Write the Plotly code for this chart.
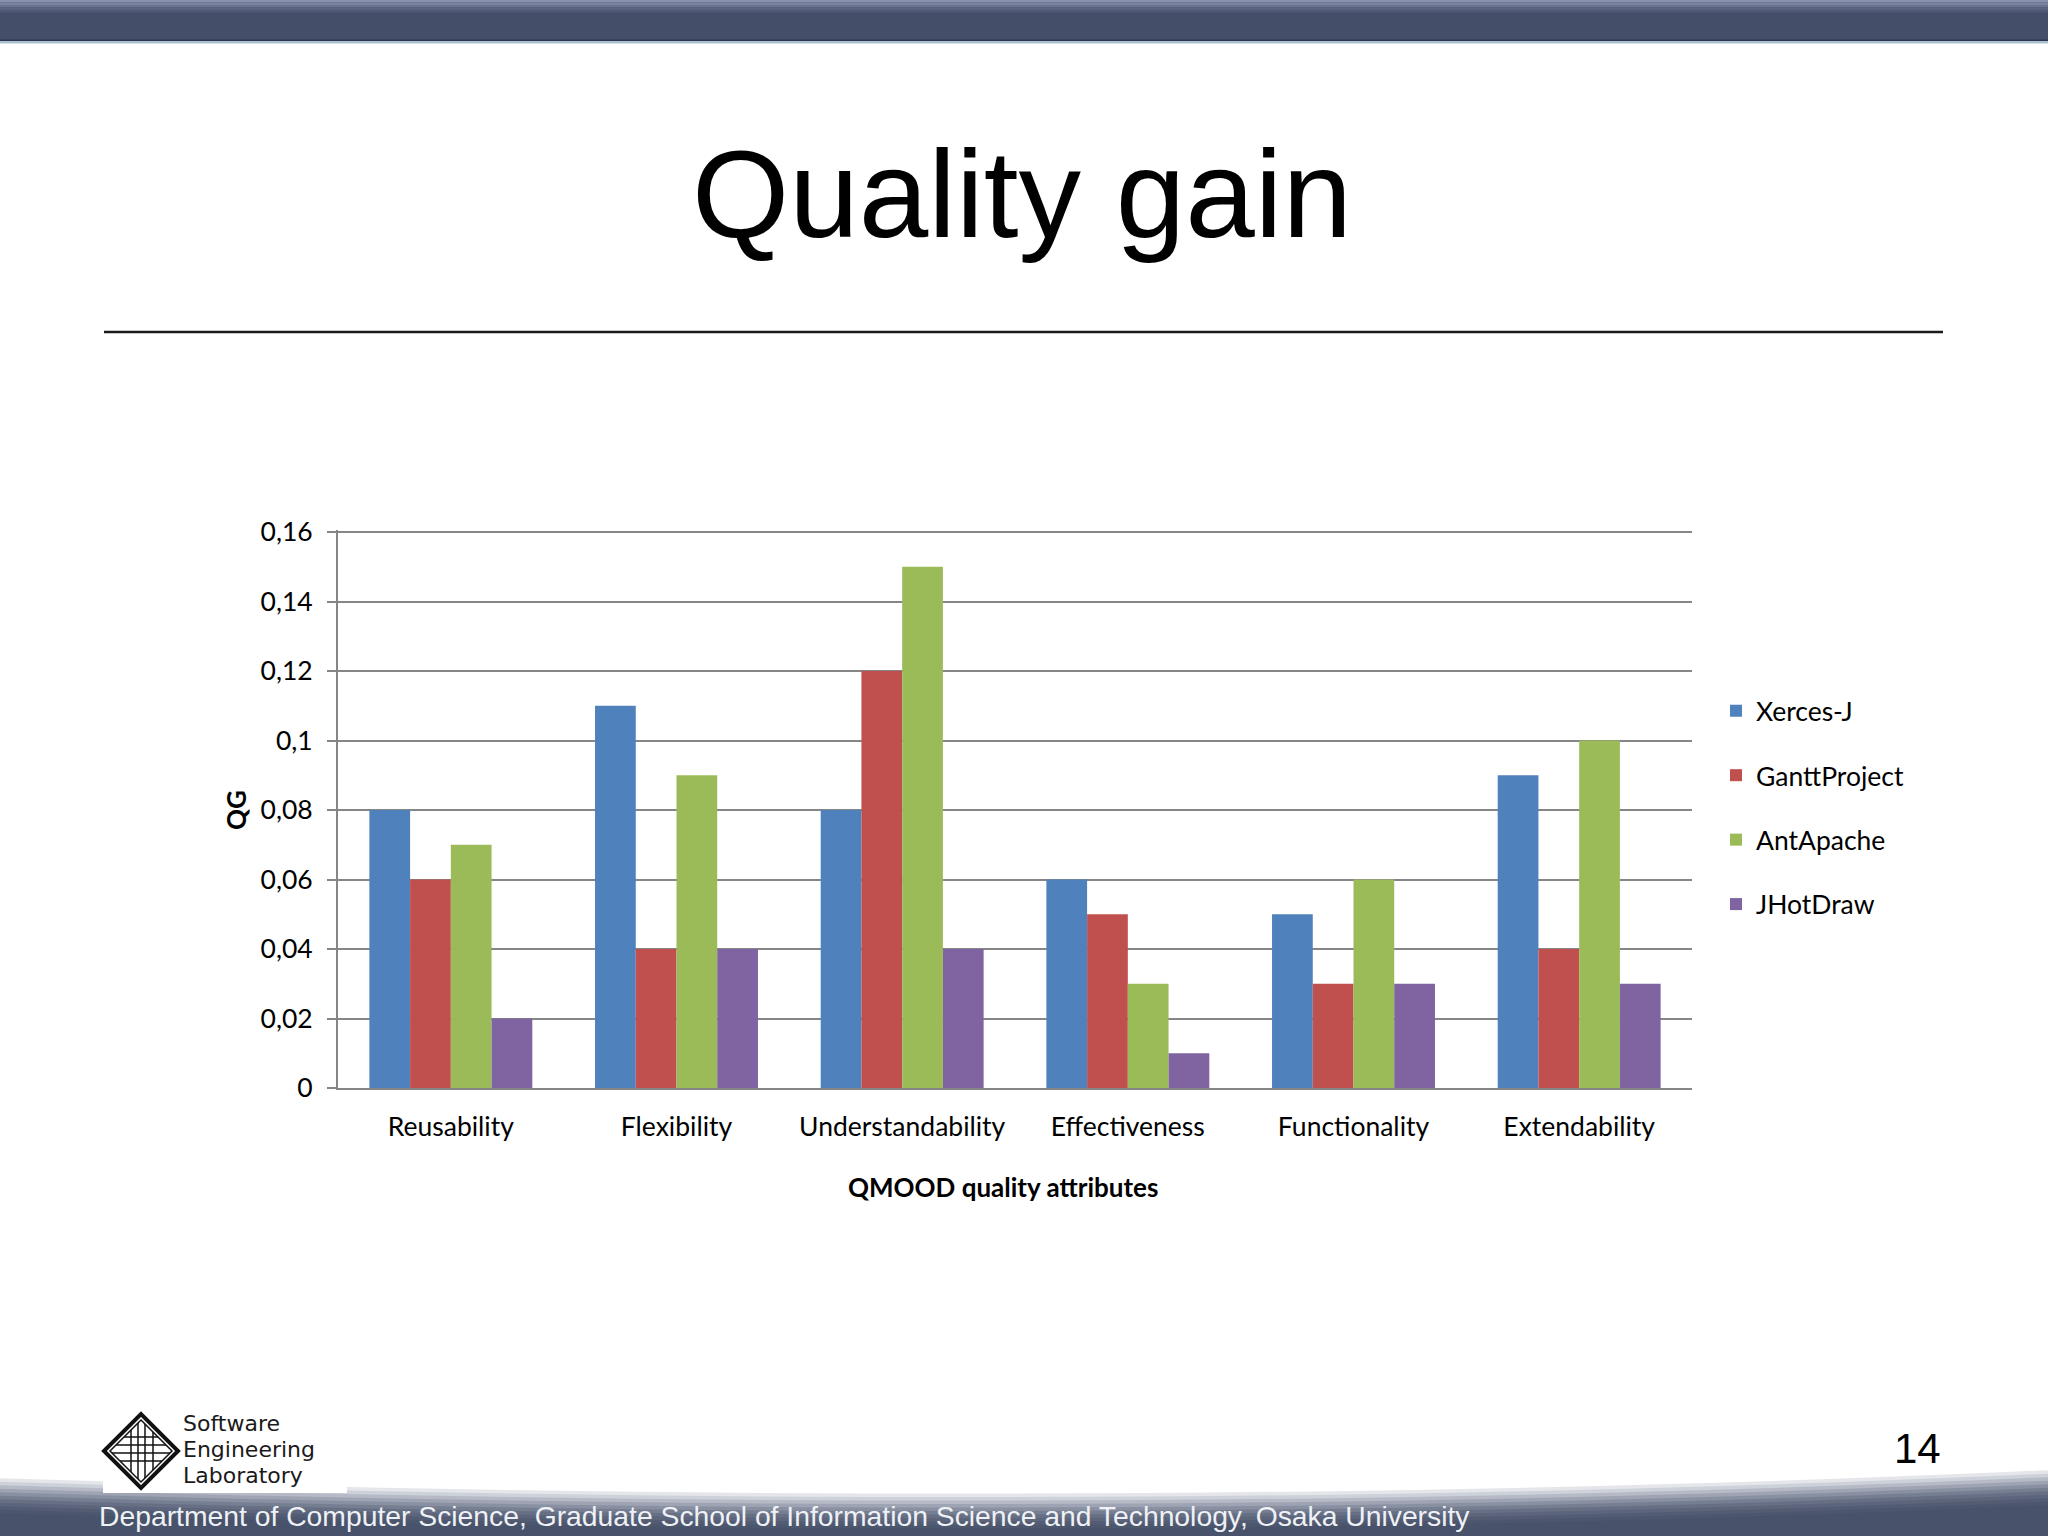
import plotly.graph_objects as go

# ---------------- data ----------------
categories = ["Reusability", "Flexibility", "Understandability",
              "Effectiveness", "Functionality", "Extendability"]
series_names = ["Xerces-J", "GanttProject", "AntApache", "JHotDraw"]
xerces_j = [0.08, 0.11, 0.08, 0.06, 0.05, 0.09]
gantt_project = [0.06, 0.04, 0.12, 0.05, 0.03, 0.04]
ant_apache = [0.07, 0.09, 0.15, 0.03, 0.06, 0.10]
jhotdraw = [0.02, 0.04, 0.04, 0.01, 0.03, 0.03]
tick_values = [0, 0.02, 0.04, 0.06, 0.08, 0.10, 0.12, 0.14, 0.16]
tick_labels = ["0", "0,02", "0,04", "0,06", "0,08", "0,1", "0,12", "0,14", "0,16"]

series_values = [xerces_j, gantt_project, ant_apache, jhotdraw]
colors = ["#4F81BD", "#C0504D", "#9BBB59", "#8064A2"]

# ---------------- geometry helpers ----------------
W, H = 2048, 1536
L, R, T, B = 338, 1692, 530, 1088
TOP_TICK_Y = 532  # pixel row of the 0.16 gridline
y_max = 0.16 * (B - T) / (B - TOP_TICK_Y)


def px(x):
    return (x - L) / (R - L)


def py(y):
    return (B - y) / (B - T)


fig = go.Figure()
for name, vals, col in zip(series_names, series_values, colors):
    fig.add_trace(go.Bar(x=categories, y=vals, name=name, marker_color=col,
                         marker_line_width=0, legendgroup=name))

shapes = []
annotations = []

# top bar
shapes.append(dict(type="rect", xref="paper", yref="paper", x0=px(-5), x1=px(W + 5),
                   y0=py(-5), y1=py(42), fillcolor="#444e68", line_width=0))
for i, c in enumerate(["#8a93ad", "#7a84a0", "#6a7490", "#5a6480", "#4e5874"]):
    shapes.append(dict(type="rect", xref="paper", yref="paper", x0=px(-5), x1=px(W + 5),
                       y0=py(i * 2.5 - (5 if i == 0 else 0)), y1=py(i * 2.5 + 2.5),
                       fillcolor=c, line_width=0))
shapes.append(dict(type="rect", xref="paper", yref="paper", x0=px(-5), x1=px(W + 5),
                   y0=py(39.5), y1=py(41), fillcolor="#2e384c", line_width=0))
shapes.append(dict(type="rect", xref="paper", yref="paper", x0=px(-5), x1=px(W + 5),
                   y0=py(41), y1=py(43.5), fillcolor="#a9c1d1", line_width=0))

# title rule
shapes.append(dict(type="line", xref="paper", yref="paper", x0=px(104), x1=px(1943),
                   y0=py(332), y1=py(332), line=dict(color="#1a1a1a", width=2.5)))


# bottom gradient band with curved top edge
def band_path(off):
    pts = [(-5, 1478 + off), (700, 1500 + off), (1400, 1500 + off), (W + 5, 1470 + off)]
    p = "M {:.5f},{:.5f} C {:.5f},{:.5f} {:.5f},{:.5f} {:.5f},{:.5f} L {:.5f},{:.5f} L {:.5f},{:.5f} Z".format(
        px(pts[0][0]), py(pts[0][1]), px(pts[1][0]), py(pts[1][1]),
        px(pts[2][0]), py(pts[2][1]), px(pts[3][0]), py(pts[3][1]),
        px(W + 5), py(H + 10), px(-5), py(H + 10))
    return p


band_cols = ["#e4e6ea", "#cdd1d9", "#b5bac6", "#9ea4b3", "#8990a2", "#767e92",
             "#676f85", "#5c657b", "#535c73", "#4c566d", "#48526a"]
for i, c in enumerate(band_cols):
    shapes.append(dict(type="path", xref="paper", yref="paper", path=band_path(i * 3.5),
                       fillcolor=c, line_width=0))

# logo white box
shapes.append(dict(type="rect", xref="paper", yref="paper", x0=px(103), x1=px(347),
                   y0=py(1400), y1=py(1493), fillcolor="white", line_width=0))

# logo diamond
cx, cy, rr = 141, 1451, 37


def diamond(r):
    return "M {:.5f},{:.5f} L {:.5f},{:.5f} L {:.5f},{:.5f} L {:.5f},{:.5f} Z".format(
        px(cx - r), py(cy), px(cx), py(cy - r), px(cx + r), py(cy), px(cx), py(cy + r))


shapes.append(dict(type="path", xref="paper", yref="paper", path=diamond(rr),
                   line=dict(color="#111", width=4), fillcolor="white"))
shapes.append(dict(type="path", xref="paper", yref="paper", path=diamond(rr - 6),
                   line=dict(color="#111", width=1.5)))
for d in [-14, -6, 2, 10]:
    half = rr - 6 - abs(d)
    shapes.append(dict(type="line", xref="paper", yref="paper", x0=px(cx - half), x1=px(cx + half),
                       y0=py(cy + d), y1=py(cy + d), line=dict(color="#111", width=1.5)))
for d in [-10, -3, 4, 12]:
    half = rr - 6 - abs(d)
    shapes.append(dict(type="line", xref="paper", yref="paper", x0=px(cx + d), x1=px(cx + d),
                       y0=py(cy - half), y1=py(cy + half), line=dict(color="#111", width=1.5)))

# title
annotations.append(dict(text="Quality gain", xref="paper", yref="paper", x=px(1022), y=py(193),
                        xanchor="center", yanchor="middle", showarrow=False,
                        font=dict(family="Liberation Sans, Arial", size=125, color="black")))
# axis titles
annotations.append(dict(text="<b>QMOOD quality attributes</b>", xref="paper", yref="paper",
                        x=px(1003), y=py(1187), xanchor="center", yanchor="middle", showarrow=False,
                        font=dict(family="Lato", size=26, color="black")))
annotations.append(dict(text="<b>QG</b>", xref="paper", yref="paper", textangle=-90,
                        x=px(236), y=py(810), xanchor="center", yanchor="middle", showarrow=False,
                        font=dict(family="Lato", size=26, color="black")))
# logo text
for txt, yy in [("Software", 1423), ("Engineering", 1449), ("Laboratory", 1475)]:
    annotations.append(dict(text=txt, xref="paper", yref="paper", x=px(181), y=py(yy),
                            xanchor="left", yanchor="middle", showarrow=False,
                            font=dict(family="DejaVu Sans", size=22, color="#1a1a1a")))
# page number
annotations.append(dict(text="14", xref="paper", yref="paper", x=px(1917), y=py(1448),
                        xanchor="center", yanchor="middle", showarrow=False,
                        font=dict(family="Liberation Sans Narrow, Liberation Sans", size=42, color="black")))
# footer
annotations.append(dict(text="Department of Computer Science, Graduate School of Information Science and Technology, Osaka University",
                        xref="paper", yref="paper", x=px(97), y=py(1516),
                        xanchor="left", yanchor="middle", showarrow=False,
                        font=dict(family="Liberation Sans, Arial", size=28.3, color="#eef1f5")))

fig.update_layout(
    width=W, height=H,
    margin=dict(l=L, r=W - R, t=T, b=H - B, pad=0),
    paper_bgcolor="white", plot_bgcolor="white",
    barmode="group", bargap=0.278, bargroupgap=0,
    font=dict(family="Lato", size=26.5, color="black"),
    showlegend=True,
    legend=dict(x=px(1716), y=py(687), xanchor="left", yanchor="top",
                font=dict(family="Lato", size=26.5, color="black"),
                traceorder="grouped", tracegroupgap=27, bgcolor="rgba(0,0,0,0)",
                itemclick=False),
    shapes=shapes, annotations=annotations,
    xaxis=dict(showgrid=False, showline=True, linecolor="#868686", linewidth=2,
               ticks="", tickfont=dict(family="Lato", size=26.5, color="black"),
               ticklabelstandoff=14, fixedrange=True),
    yaxis=dict(range=[0, y_max], tickvals=tick_values, ticktext=tick_labels,
               showgrid=True, gridcolor="#868686", gridwidth=2,
               showline=True, linecolor="#868686", linewidth=2,
               ticks="outside", ticklen=9, tickwidth=2, tickcolor="#868686",
               tickfont=dict(family="Lato", size=26.5, color="black"),
               ticklabelstandoff=9, zeroline=False, fixedrange=True),
)

fig.write_html("out.html",
               config={"displayModeBar": False},
               post_script="document.body.style.margin='0';"
                           "document.documentElement.style.overflow='hidden';"
                           "document.body.style.overflow='hidden';")
